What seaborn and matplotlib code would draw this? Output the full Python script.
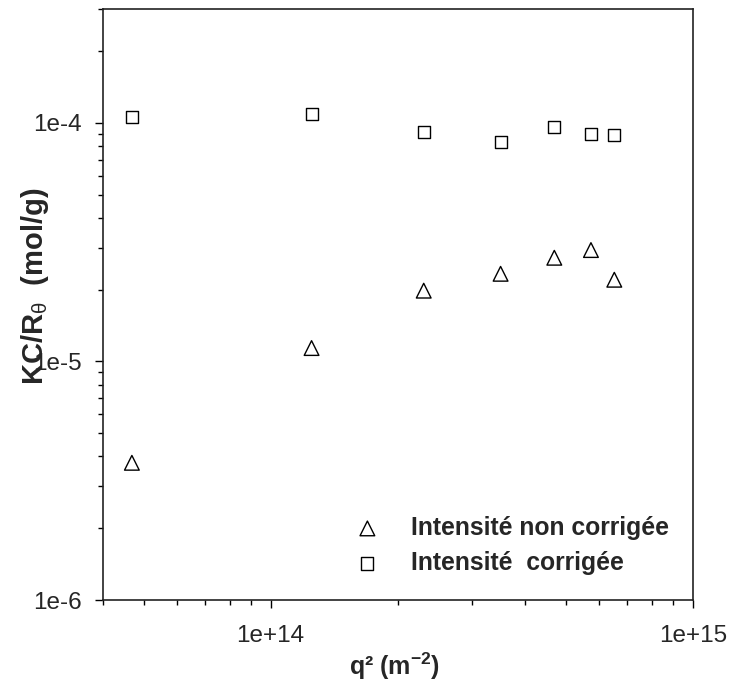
import numpy as np
import pandas as pd
import matplotlib
matplotlib.use("Agg")
import matplotlib.pyplot as plt
import seaborn as sns
from matplotlib.ticker import LogLocator, FuncFormatter, NullFormatter

# data
q2 = [4.69e13, 1.25e14, 2.305e14, 3.506e14, 4.70e14, 5.74e14, 6.52e14]
kc_non_corr = [3.76e-6, 1.138e-5, 1.98e-5, 2.33e-5, 2.72e-5, 2.93e-5, 2.20e-5]
kc_corr = [1.06e-4, 1.088e-4, 9.17e-5, 8.30e-5, 9.62e-5, 8.97e-5, 8.91e-5]
labels = ["Intensité non corrigée", "Intensité  corrigée"]

df_non = pd.DataFrame({"q2": q2, "kc": kc_non_corr})
df_corr = pd.DataFrame({"q2": q2, "kc": kc_corr})

sns.set_style("ticks")
plt.rcParams['font.family'] = ['Liberation Sans', 'DejaVu Sans']
plt.rcParams['mathtext.fontset'] = 'custom'
plt.rcParams['mathtext.rm'] = 'Liberation Sans'
plt.rcParams['mathtext.it'] = 'Liberation Sans'
plt.rcParams['mathtext.bf'] = 'Liberation Sans:bold'

fig = plt.figure(figsize=(7.29, 6.87), dpi=100)
ax = fig.add_axes([0.1409, 0.1266, 0.8093, 0.8603])

sns.scatterplot(data=df_non, x="q2", y="kc", marker="^", s=112,
                facecolors="none", edgecolor="black", linewidth=1.0,
                label=labels[0], ax=ax, legend=False)
sns.scatterplot(data=df_corr, x="q2", y="kc", marker="s", s=76,
                facecolors="none", edgecolor="black", linewidth=1.0,
                label=labels[1], ax=ax, legend=False)

ax.set_xscale("log")
ax.set_yscale("log")
ax.set_xlim(4e13, 1e15)
ax.set_ylim(1e-6, 3e-4)

def sci_fmt(v, pos):
    e = int(round(np.log10(v)))
    return f"1e{e:+d}" if e > 0 else f"1e{e}"

ax.xaxis.set_major_locator(LogLocator(base=10, numticks=10))
ax.yaxis.set_major_locator(LogLocator(base=10, numticks=10))
ax.xaxis.set_minor_locator(LogLocator(base=10, subs=np.arange(2, 10), numticks=20))
ax.yaxis.set_minor_locator(LogLocator(base=10, subs=np.arange(2, 10), numticks=20))
ax.xaxis.set_major_formatter(FuncFormatter(sci_fmt))
ax.yaxis.set_major_formatter(FuncFormatter(sci_fmt))
ax.xaxis.set_minor_formatter(NullFormatter())
ax.yaxis.set_minor_formatter(NullFormatter())

ax.tick_params(which="both", direction="out", top=False, right=False,
               color="black", width=1.0)
ax.tick_params(which="major", length=6, labelsize=17.5)
ax.tick_params(axis="y", which="major", pad=9)
ax.tick_params(axis="x", which="major", pad=12)
ax.tick_params(which="minor", length=3.5)

for sp in ax.spines.values():
    sp.set_color("#222222")
    sp.set_linewidth(1.2)

ax.set_xlabel(r"q² (m$^{\mathbf{-2}}$)", fontsize=18, fontweight="bold")
ax.xaxis.set_label_coords(0.495, -0.085)
ax.set_ylabel(r"KC/R$_{\theta}$  (mol/g)", fontsize=21, fontweight="bold")
ax.yaxis.set_label_coords(-0.088, 0.53)

leg = ax.legend(loc="upper left", bbox_to_anchor=(0.369, 0.18), frameon=False,
                prop={"weight": "bold", "size": 17.8},
                handletextpad=0.75, labelspacing=0.45, borderpad=0.4)

plt.savefig("out.png", dpi=100)
